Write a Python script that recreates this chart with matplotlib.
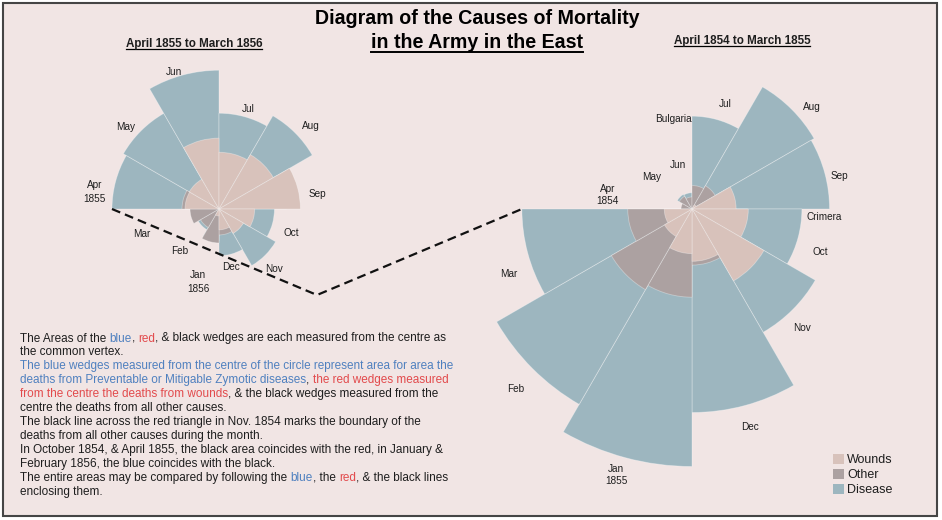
import matplotlib
matplotlib.use('Agg')
import matplotlib.pyplot as plt
import numpy as np
from matplotlib.patches import Rectangle, Patch
from matplotlib.lines import Line2D
from matplotlib.transforms import IdentityTransform
from matplotlib.font_manager import FontProperties

plt.rcParams['font.family'] = ['Liberation Sans', 'DejaVu Sans']

# ---------------- data (deaths per month) ----------------
months = ['Apr', 'May', 'Jun', 'Jul', 'Aug', 'Sep', 'Oct', 'Nov', 'Dec', 'Jan', 'Feb', 'Mar']

# April 1854 - March 1855
disease_1 = [1, 12, 11, 359, 828, 788, 503, 844, 1725, 2761, 2120, 1205]
wounds_1 = [0, 0, 0, 0, 1, 81, 132, 287, 114, 83, 42, 32]
other_1 = [5, 9, 6, 23, 30, 70, 128, 106, 131, 324, 361, 172]

# April 1855 - March 1856
disease_2 = [477, 508, 802, 382, 483, 189, 128, 178, 91, 42, 24, 15]
wounds_2 = [48, 49, 209, 134, 164, 276, 53, 33, 18, 2, 0, 0]
other_2 = [57, 37, 31, 33, 25, 20, 18, 32, 28, 48, 19, 35]

# label texts and their polar positions (angle deg clockwise from West, radius in sqrt units)
labels_1 = ['Apr\n1854', 'May', 'Jun', 'Bulgaria', 'Jul', 'Aug', 'Sep', 'Crimera', 'Oct', 'Nov', 'Dec', 'Jan\n1855', 'Feb', 'Mar']
label_pos_1 = [(9.5, 17.4), (38.7, 10.5), (72.4, 9.4), (78.1, 18.8), (107.4, 22.5), (139.6, 32.1),
               (167.3, 30.8), (183.5, 27.0), (198.6, 27.6), (227.3, 33.1), (255.1, 46.0),
               (285.9, 56.5), (314.4, 51.4), (340.4, 39.6)]
labels_2 = ['Apr\n1855', 'May', 'Jun', 'Jul', 'Aug', 'Sep', 'Oct', 'Nov', 'Dec', 'Jan\n1856', 'Feb', 'Mar']
label_pos_2 = [(7.7, 25.7), (41.4, 25.3), (71.8, 29.4), (106.2, 21.2), (137.9, 25.3), (171.4, 20.4),
               (198.4, 15.5), (227.5, 16.6), (258.3, 12.1), (286.0, 15.5), (312.9, 11.7), (342.0, 16.5)]

# ---------------- styling ----------------
W, H = 942, 520
BG = '#f1e5e4'
C_DIS = '#9db6bf'
C_OTH = '#aca1a1'
C_WND = '#d8c2bb'
TXT = '#1e1e1e'
BLUE = '#4f80bf'
RED = '#e24a4c'
S = 4.9        # pixels per sqrt(death)
RMAX = 56

fig = plt.figure(figsize=(W / 100, H / 100), dpi=100, facecolor='white')
fig.add_artist(Rectangle((2.5 / W, 4 / H), 934.5 / W, 513.5 / H, transform=fig.transFigure,
                         facecolor=BG, edgecolor='#454545', linewidth=1.5, zorder=-10))


def polar_axes(cx, cy):
    rad = RMAX * S
    ax = fig.add_axes([(cx - rad) / W, (H - cy - rad) / H, 2 * rad / W, 2 * rad / H], projection='polar')
    ax.set_theta_zero_location('W')
    ax.set_theta_direction(-1)
    ax.set_ylim(0, RMAX)
    ax.set_axis_off()
    ax.patch.set_alpha(0)
    return ax


def draw_rose(ax, disease, other, wounds, labels, label_pos, lsp):
    theta = np.deg2rad(15 + 30 * np.arange(12))
    width = np.deg2rad(30)
    for vals, col in [(disease, C_DIS), (other, C_OTH), (wounds, C_WND)]:
        ax.bar(theta, np.sqrt(np.array(vals, dtype=float)), width=width, bottom=0, color=col,
               edgecolor=(1, 1, 1, 0.35), linewidth=0.6, align='center')
    for lab, (t, r) in zip(labels, label_pos):
        ax.text(np.deg2rad(t), r, lab, ha='center', va='center', fontsize=7.2, color=TXT,
                linespacing=lsp, multialignment='center')


ax1 = polar_axes(692, 209)
draw_rose(ax1, disease_1, other_1, wounds_1, labels_1, label_pos_1, 1.2)
ax2 = polar_axes(219, 209)
draw_rose(ax2, disease_2, other_2, wounds_2, labels_2, label_pos_2, 1.55)

# ---------------- titles ----------------
def ftext(x, y, s, **kw):
    return fig.text(x / W, 1 - y / H, s, **kw)

t1 = ftext(477, 19, 'Diagram of the Causes of Mortality', ha='center', va='center',
           fontsize=14.1, fontweight='bold', color='black')
t2 = ftext(477, 43, 'in the Army in the East', ha='center', va='center',
           fontsize=14.1, fontweight='bold', color='black')
s2 = ftext(194, 44, 'April 1855 to March 1856', ha='center', va='center',
           fontsize=8.4, fontweight='bold', color=TXT)
s1 = ftext(742, 41, 'April 1854 to March 1855', ha='center', va='center',
           fontsize=8.4, fontweight='bold', color=TXT)

# ---------------- legend ----------------
fig.legend(handles=[Patch(facecolor=C_WND, label='Wounds'),
                    Patch(facecolor=C_OTH, label='Other'),
                    Patch(facecolor=C_DIS, label='Disease')],
           loc='upper left', bbox_to_anchor=(833 / W, 1 - 454 / H), frameon=False, fontsize=9,
           handlelength=0.85, handleheight=0.85, handletextpad=0.3, labelspacing=0.2,
           borderpad=0, borderaxespad=0, labelcolor=TXT)

fig.canvas.draw()
renderer = fig.canvas.get_renderer()

# underlines
for t, lw in [(t2, 1.4), (s1, 0.9), (s2, 0.9)]:
    bb = t.get_window_extent(renderer)
    fig.add_artist(Line2D([bb.x0, bb.x1], [bb.y0 + 0.6, bb.y0 + 0.6], transform=IdentityTransform(),
                          color='black', linewidth=lw))

# dashed connector between the two roses
pA = ax2.transData.transform((0.0, np.sqrt(disease_2[0])))
pB = ax1.transData.transform((2 * np.pi, np.sqrt(disease_1[-1])))
vx, vy = 317, H - 295
fig.add_artist(Line2D([pA[0], vx, pB[0]], [pA[1], vy, pB[1]], transform=IdentityTransform(),
                      color='#111111', linewidth=1.6, linestyle=(0, (4, 2.3))))

# ---------------- explanatory paragraph ----------------
K = TXT
para = [
    [("The Areas of the ", K), ("blue", BLUE), (", ", K), ("red", RED),
     (", & black wedges are each measured from the centre as", K)],
    [("the common vertex.", K)],
    [("The blue wedges measured from the centre of the circle represent area for area the", BLUE)],
    [("deaths from Preventable or Mitigable Zymotic diseases", BLUE), (", ", K), ("the red wedges measured", RED)],
    [("from the centre the deaths from wounds", RED), (", & the black wedges measured from the", K)],
    [("centre the deaths from all other causes.", K)],
    [("The black line across the red triangle in Nov. 1854 marks the boundary of the", K)],
    [("deaths from all other causes during the month.", K)],
    [("In October 1854, & April 1855, the black area coincides with the red, in January &", K)],
    [("February 1856, the blue coincides with the black.", K)],
    [("The entire areas may be compared by following the ", K), ("blue", BLUE), (", the ", K),
     ("red", RED), (", & the black lines", K)],
    [("enclosing them.", K)],
]
FS = 8.45
fp = FontProperties(family=['Liberation Sans', 'DejaVu Sans'], size=FS)


def measure(s):
    w1, _, _ = renderer.get_text_width_height_descent(s + 'x', fp, ismath=False)
    w2, _, _ = renderer.get_text_width_height_descent('x', fp, ismath=False)
    return w1 - w2


x0, y0, dy = 20, 341.5, 13.95
for i, segs in enumerate(para):
    prefix = ''
    for s, c in segs:
        x = x0 + measure(prefix) if prefix else x0
        fig.text(x / W, 1 - (y0 + i * dy) / H, s, color=c, fontproperties=fp, ha='left', va='baseline')
        prefix += s

fig.savefig('out.png', dpi=100, facecolor='white')
